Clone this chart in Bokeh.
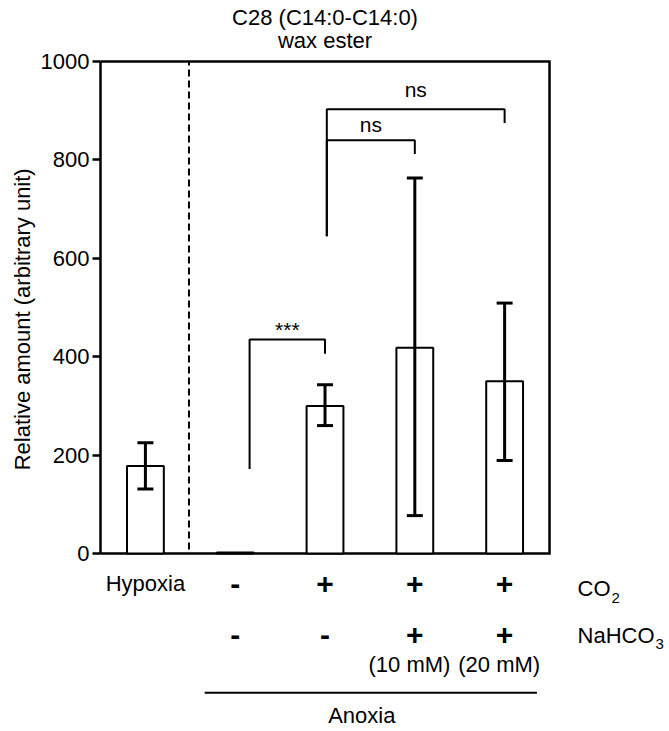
import numpy as np
from bokeh.plotting import figure
from bokeh.models import (ColumnDataSource, Whisker, TeeHead, Label, LabelSet,
                          Range1d, FixedTicker)
from bokeh.core.properties import value
from bokeh.embed import file_html
from bokeh.resources import INLINE

# ---------------- data ----------------
conditions = ["Hypoxia", "Anoxia", "Anoxia+CO2", "Anoxia+CO2+NaHCO3 10mM", "Anoxia+CO2+NaHCO3 20mM"]
means = [178, 2, 300, 418, 350]
err_upper = [225, 2, 343, 763, 509]
err_lower = [131, 2, 260, 77, 189]

row_co2 = ["Hypoxia", "-", "+", "+", "+"]
row_nahco3 = ["", "-", "-", "+", "+"]
row_conc = ["", "", "", "(10 mM)", "(20 mM)"]
y_ticks = [0, 200, 400, 600, 800, 1000]

title_lines = ["C28 (C14:0-C14:0)", "wax ester"]
y_label = "Relative amount (arbitrary unit)"
group_label = "Anoxia"
co2_label = ("CO", "2")
nahco3_label = ("NaHCO", "3")

# significance brackets (data units)
br_x_left = [1.16, 2.02, 2.02]
br_x_right = [2.0, 3.0, 4.0]
br_top = [435, 840, 903]
br_left_bottom = [172, 645, 645]
br_right_bottom = [406, 812, 875]
br_text = ["***", "ns", "ns"]
br_text_y = [441, 857, 928]

divider_x = 0.485
divider_y = (8, 1000)

FONT = "Liberation Sans"

# ---------------- layout ----------------
W, H = 669, 731
X_LO, X_HI = -0.5, 4.5          # extent of the boxed plot area (data)
Y_LO, Y_HI = 0, 1000
# whole canvas is the frame; the boxed area sits inside it
VIEW_X = (-1.6136, 5.836)
VIEW_Y = (-361.8, 1124.0)

x = np.arange(len(conditions))
p = figure(width=W, height=H, output_backend="svg", toolbar_location=None,
           x_range=Range1d(*VIEW_X), y_range=Range1d(*VIEW_Y),
           min_border_left=0, min_border_right=0, min_border_top=0,
           min_border_bottom=0)
p.background_fill_color = "white"
p.border_fill_color = "white"
p.grid.visible = False
p.outline_line_color = None

p.xaxis.visible = False
ya = p.yaxis[0]
ya.fixed_location = X_LO
ya.bounds = (Y_LO, Y_HI)
ya.ticker = FixedTicker(ticks=y_ticks)
ya.axis_line_width = 2.5
ya.axis_line_color = "black"
ya.major_tick_line_width = 2.5
ya.major_tick_line_color = "black"
ya.major_tick_out = 8
ya.major_tick_in = 0
ya.minor_tick_line_color = None
ya.major_label_text_font = FONT
ya.major_label_text_font_size = "22px"
ya.major_label_text_color = "black"
ya.major_label_standoff = 3

# box (bottom, right, top spines)
p.line(x=[X_LO, X_HI, X_HI, X_LO], y=[Y_LO, Y_LO, Y_HI, Y_HI],
       line_color="black", line_width=2.5, line_join="miter")

# bars
src = ColumnDataSource(dict(x=x, top=means))
p.vbar(x="x", top="top", width=0.41, source=src, fill_color="white",
       line_color="black", line_width=2)

# error bars
mask = [u != l for u, l in zip(err_upper, err_lower)]
esrc = ColumnDataSource(dict(
    x=[xi for xi, m in zip(x, mask) if m],
    upper=[u for u, m in zip(err_upper, mask) if m],
    lower=[l for l, m in zip(err_lower, mask) if m]))
wh = Whisker(base="x", upper="upper", lower="lower", source=esrc,
             line_width=3, line_color="black", level="overlay",
             upper_head=TeeHead(size=16, line_width=3, line_color="black"),
             lower_head=TeeHead(size=16, line_width=3, line_color="black"))
p.add_layout(wh)

# dashed divider
p.segment(x0=[divider_x], y0=[divider_y[0]], x1=[divider_x], y1=[divider_y[1]],
          line_color="black", line_width=2, line_dash="7 4")

# significance brackets
bxs = [[a, a, b, b] for a, b in zip(br_x_left, br_x_right)]
bys = [[lb, t, t, rb] for lb, t, rb in zip(br_left_bottom, br_top, br_right_bottom)]
p.multi_line(xs=bxs, ys=bys, line_color="black", line_width=2)
bsrc = ColumnDataSource(dict(x=[(a + b) / 2 for a, b in zip(br_x_left, br_x_right)],
                             y=br_text_y, t=br_text))
p.add_layout(LabelSet(x="x", y="y", text="t", source=bsrc, text_align="center",
                      text_baseline="alphabetic", text_font=value(FONT),
                      text_font_size=value("21px"), text_color="black"))


def lab(text, xd, yd, size="22px", align="center", style="normal", angle=0.0,
        xoff=0):
    p.add_layout(Label(x=xd, y=yd, x_offset=xoff, text=text, text_align=align,
                       text_baseline="middle", text_font=FONT,
                       text_font_size=size, text_font_style=style,
                       text_color="black", angle=angle))


# title (centred over the box)
for txt, yd in zip(title_lines, [1089, 1043]):
    lab(txt, (X_LO + X_HI) / 2, yd)

# y label
lab(y_label, -1.369, 476, angle=np.pi / 2)

# condition table
lab(row_co2[0], x[0], -61)
for xi, t in zip(x[1:], row_co2[1:]):
    lab(t, xi, -63, size="30px", style="bold")
for xi, t in zip(x[1:], row_nahco3[1:]):
    lab(t, xi, -165, size="30px", style="bold")
for xi, t in zip(x[3:], row_conc[3:]):
    lab(t, xi - 0.06, -226)

for (main, sub), yd, ysub, w in zip([co2_label, nahco3_label], [-72, -167],
                                    [-90, -184], [34, 78]):
    lab(main, 4.812, yd, align="left")
    lab(sub, 4.812, ysub, size="15px", align="left", xoff=w)

# Anoxia group line and label
p.line(x=[0.66, 4.36], y=[-283, -283], line_color="black", line_width=2)
lab(group_label, 2.41, -329)

open("out.html", "w").write(file_html(p, INLINE))
